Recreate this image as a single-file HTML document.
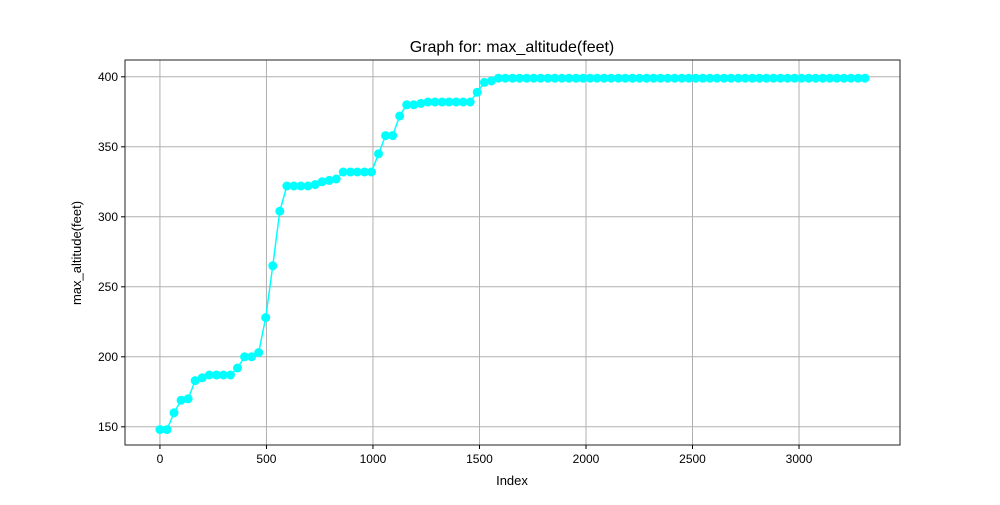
<!DOCTYPE html>
<html><head><meta charset="utf-8"><style>
body{margin:0;background:#fff}
svg text{font-family:"Liberation Sans","DejaVu Sans",sans-serif;fill:#000}
</style></head><body>
<svg id="chart" width="1000" height="500" xmlns="http://www.w3.org/2000/svg">
<rect width="1000" height="500" fill="#fff"/>
<g id="grid"></g>
<g id="series"></g>
<rect x="125" y="60" width="775" height="385" fill="none" stroke="#222" stroke-width="1"/>
<g id="ticks"></g>
<text x="512" y="52" font-size="16" text-anchor="middle">Graph for: max_altitude(feet)</text>
<text x="512" y="485" font-size="13" text-anchor="middle">Index</text>
<text transform="translate(81,253) rotate(-90)" font-size="13" text-anchor="middle">max_altitude(feet)</text>
</svg>
<script>
const values = [148,148,160,169,170,183,185,187,187,187,187,192,200,200,203,228,265,304,322,322,322,322,323,325,326,327,332,332,332,332,332,345,358,358,372,380,380,381,382,382,382,382,382,382,382,389,396,397,399,399,399,399,399,399,399,399,399,399,399,399,399,399,399,399,399,399,399,399,399,399,399,399,399,399,399,399,399,399,399,399,399,399,399,399,399,399,399,399,399,399,399,399,399,399,399,399,399,399,399,399,399];
const indexStep = 33.1;
const xTicks = [0,500,1000,1500,2000,2500,3000];
const yTicks = [150,200,250,300,350,400];
const L=125,R=900,T=60,B=445;
const xMin=-164,xMax=3474,yMin=137,yMax=412;
const sx=v=>L+(v-xMin)/(xMax-xMin)*(R-L);
const sy=v=>B-(v-yMin)/(yMax-yMin)*(B-T);
const NS='http://www.w3.org/2000/svg';
function mk(t,a,p){const e=document.createElementNS(NS,t);for(const k in a)e.setAttribute(k,a[k]);p.appendChild(e);return e;}
const grid=document.getElementById('grid'),ticks=document.getElementById('ticks'),ser=document.getElementById('series');
xTicks.forEach(v=>{const x=sx(v);
 const g=mk('line',{x1:x,x2:x,y1:T,y2:B,stroke:'#b0b0b0','stroke-width':1},grid);
 
 
 const t=mk('line',{x1:x,x2:x,y1:B,y2:B+4,stroke:'#000'},ticks);
 
 
 const l=mk('text',{x:x,y:B+18,'font-size':12,'text-anchor':'middle'},ticks);l.textContent=v;
 
 
});
yTicks.forEach(v=>{const y=sy(v);
 const g=mk('line',{x1:L,x2:R,y1:y,y2:y,stroke:'#b0b0b0','stroke-width':1},grid);
 
 
 const t=mk('line',{x1:L-4,x2:L,y1:y,y2:y,stroke:'#000'},ticks);
 
 
 const l=mk('text',{x:L-7,y:y+4,'font-size':12,'text-anchor':'end'},ticks);l.textContent=v;
 
 
});
const pts=values.map((v,i)=>[sx(i*indexStep),sy(v)]);
const line=mk('polyline',{points:pts.map(p=>p.join(',')).join(' '),fill:'none',stroke:'#00ffff','stroke-width':1.5},ser);


pts.forEach(p=>{const c=mk('circle',{cx:p[0],cy:p[1],r:4.5,fill:'#00ffff'},ser);
 
 
});
</script>
</body></html>
